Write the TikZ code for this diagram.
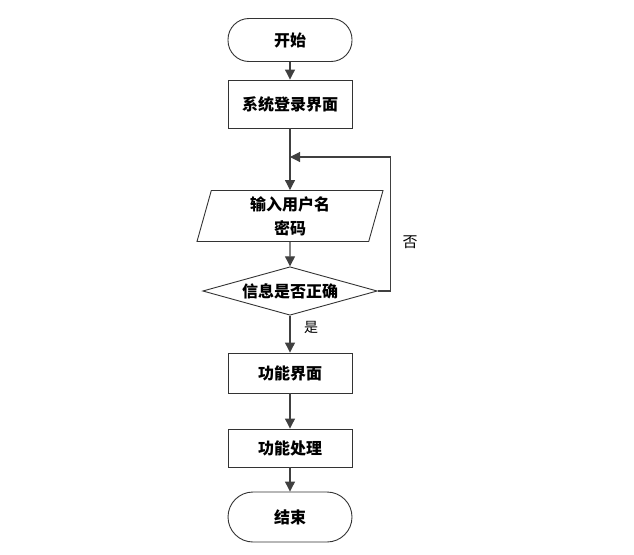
\documentclass[tikz,border=0pt]{standalone}
\usepackage{fontspec}
\setmainfont{Noto Sans CJK SC}
\usetikzlibrary{shapes.geometric,arrows.meta}
\tikzset{
	flowline/.style={draw=black!75, line width=1.1pt},
	arr/.style={flowline, -{Triangle[length=10pt,width=10pt]}},
	termbox/.style={draw=black!80, line width=0.9pt, rounded corners=21pt, minimum width=124pt, minimum height=43pt, font=\fontsize{16}{20}\selectfont\bfseries},
	procbox/.style={draw=black!80, line width=0.9pt, minimum width=124pt, minimum height=44pt, font=\fontsize{16}{20}\selectfont\bfseries},
	iobox/.style={draw=black!80, line width=0.9pt, trapezium, trapezium left angle=70, trapezium right angle=110, trapezium stretches body, minimum width=186pt, minimum height=51pt, inner sep=0pt, align=center, font=\fontsize{16}{24}\selectfont\bfseries},
	decbox/.style={draw=black!80, line width=0.9pt, diamond, aspect=3.6, inner sep=2.5pt, font=\fontsize{16}{20}\selectfont\bfseries}
}
\begin{document}
\begin{tikzpicture}[x=1pt,y=-1pt]
		\useasboundingbox (0,0) rectangle (634,554);
		\node[termbox] (start) at (290,40) {开始};
		\node[procbox, minimum height=48pt] (login) at (290,104) {系统登录界面};
		\node[iobox] (input) at (290,216) {输入用户名\\密码};
		\node[decbox] (check) at (290,291) {信息是否正确};
		\node[procbox, minimum height=40pt] (func) at (290,373) {功能界面};
		\node[procbox, minimum height=38pt] (proc) at (290,448) {功能处理};
		\node[termbox, minimum height=50pt, rounded corners=25pt] (stop) at (290,517) {结束};
		\coordinate (back) at (290,157);
		
		\draw[arr] (start) -- (login);
		\draw[arr] (login) -- (input);
		\draw[arr] (input) -- (check);
		\draw[arr] (check) -- (func);
		\draw[arr] (func) -- (proc);
		\draw[arr] (proc) -- (stop);
		\draw[arr] (check.east) -- ++(13,0) |- (back);
		
		\node[font=\fontsize{15}{18}\selectfont] (no) at (410,242) {否};
		\node[font=\fontsize{14}{18}\selectfont] (yes) at (311,327) {是};
		\end{tikzpicture}
\end{document}
